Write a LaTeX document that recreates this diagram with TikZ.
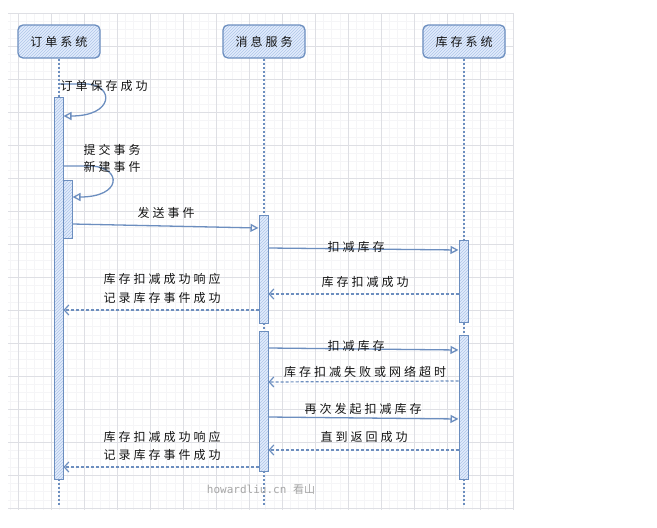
\documentclass[tikz,border=0pt]{standalone}
\usepackage{fontspec}
\usepackage{tikz}
\usetikzlibrary{arrows.meta,patterns}
\newfontfamily\handfont[LetterSpace=25]{Noto Sans CJK SC}
\newfontfamily\cjkfont{Noto Sans CJK SC}
\newfontfamily\wmfont{DejaVu Sans Mono}
\definecolor{seqblue}{RGB}{108,142,191}
\definecolor{seqfill}{RGB}{226,236,252}
\definecolor{hatchblue}{RGB}{175,198,232}
\definecolor{gridmajor}{RGB}{222,223,228}
\definecolor{gridminor}{RGB}{245,245,247}
\definecolor{inkgray}{RGB}{20,20,20}

\tikzset{
  participant/.style={draw=seqblue, line width=1.3pt, rounded corners=5pt,
    minimum width=82pt, minimum height=33pt, preaction={fill=seqfill},
    pattern=north east lines, pattern color=hatchblue,
    font=\handfont\fontsize{12}{14}\selectfont, text=inkgray},
  actbar/.style={draw=seqblue, line width=1pt, minimum width=9pt, inner sep=0pt,
    anchor=north, preaction={fill=seqfill}, pattern=north east lines,
    pattern color=hatchblue},
  lifeline/.style={seqblue, line width=1.3pt, dash pattern=on 2pt off 2pt},
  callmsg/.style={seqblue, line width=1.3pt, -{Triangle[open,length=8pt,width=8pt]}},
  replymsg/.style={seqblue, line width=1.2pt, dash pattern=on 3pt off 2pt,
    -{Straight Barb[length=4.5pt,width=10pt]}},
  lbl/.style={font=\handfont\fontsize{12}{14}\selectfont, text=inkgray, inner sep=0pt}
}

\begin{document}
\begin{tikzpicture}[x=1pt,y=-1pt]
\useasboundingbox[fill=white] (0,0) rectangle (657,528);

% grid paper
\foreach \i in {0,...,61}
  \draw[gridminor, line width=0.5pt] (9.75+8.25*\i,13) -- (9.75+8.25*\i,510);
\foreach \j in {0,...,60}
  \draw[gridminor, line width=0.5pt] (8,13+8.25*\j) -- (513,13+8.25*\j);
\foreach \i in {0,...,15}
  \draw[gridmajor, line width=0.8pt] (18+33*\i,13) -- (18+33*\i,510);
\foreach \j in {0,...,15}
  \draw[gridmajor, line width=0.8pt] (8,13+33*\j) -- (513,13+33*\j);

% participants
\node[participant] (order) at (59,41.5) {订单系统};
\node[participant] (mq) at (264,41.5) {消息服务};
\node[participant] (stock) at (464,41.5) {库存系统};

\draw[lifeline] (order.south) -- ++(0,446);
\draw[lifeline] (mq.south) -- ++(0,446);
\draw[lifeline] (stock.south) -- ++(0,446);

% activations
\node[actbar, minimum height=382pt] (ordact1) at (58.5,97) {};
\node[actbar, minimum height=58pt] (ordact2) at (67.5,180) {};
\node[actbar, minimum height=108pt] (mqact1) at (263.5,215) {};
\node[actbar, minimum height=140pt] (mqact2) at (263.5,331) {};
\node[actbar, minimum height=82pt] (stockact1) at (463.5,240) {};
\node[actbar, minimum height=144pt] (stockact2) at (463.5,335) {};

% self calls
\draw[callmsg] (ordact1.north |- 0,84) -- (88,84)
  .. controls (114,86) and (114,116) .. (ordact1.east |- 0,116);
\node[lbl] (savelbl) at (104,86) {订单保存成功};

\draw[callmsg] (ordact1.east |- 0,166) -- (92,166)
  .. controls (122,168) and (122,197) .. (ordact2.east |- 0,197);
\node[lbl] (commitlbl) at (112,150) {提交事务};
\node[lbl] (newlbl) at (112,167) {新建事件};

% first round
\draw[callmsg] (ordact2.east |- 0,224) -- (mqact1.west |- 0,228);
\node[lbl] (sendlbl) at (166,213) {发送事件};

\draw[callmsg] (mqact1.east |- 0,248) -- (stockact1.west |- 0,250);
\node[lbl] (deduct1) at (356,247) {扣减库存};

\draw[replymsg] (stockact1.west |- 0,294) -- (mqact1.east |- 0,294);
\node[lbl] (okreply) at (365,282) {库存扣减成功};

\draw[replymsg] (mqact1.west |- 0,310) -- (ordact1.east |- 0,310);
\node[lbl] (resp1a) at (162,279) {库存扣减成功响应};
\node[lbl] (resp1b) at (162,298) {记录库存事件成功};

% retry round
\draw[callmsg] (mqact2.east |- 0,348) -- (stockact2.west |- 0,350);
\node[lbl] (deduct2) at (356,346) {扣减库存};

\draw[replymsg] (stockact2.west |- 0,381) -- (mqact2.east |- 0,382);
\node[lbl] (failreply) at (365,372) {库存扣减失败或网络超时};

\draw[callmsg] (mqact2.east |- 0,417) -- (stockact2.west |- 0,419);
\node[lbl] (retrylbl) at (363,409) {再次发起扣减库存};

\draw[replymsg] (stockact2.west |- 0,450) -- (mqact2.east |- 0,450);
\node[lbl] (untillbl) at (364,437) {直到返回成功};

\draw[replymsg] (mqact2.west |- 0,467) -- (ordact1.east |- 0,467);
\node[lbl] (resp2a) at (162,437) {库存扣减成功响应};
\node[lbl] (resp2b) at (162,455) {记录库存事件成功};

\node[text=black!35, font=\wmfont\fontsize{11}{13}\selectfont, inner sep=0pt] (wm)
  at (261,489) {howardliu.cn {\cjkfont 看山}};
\end{tikzpicture}
\end{document}
